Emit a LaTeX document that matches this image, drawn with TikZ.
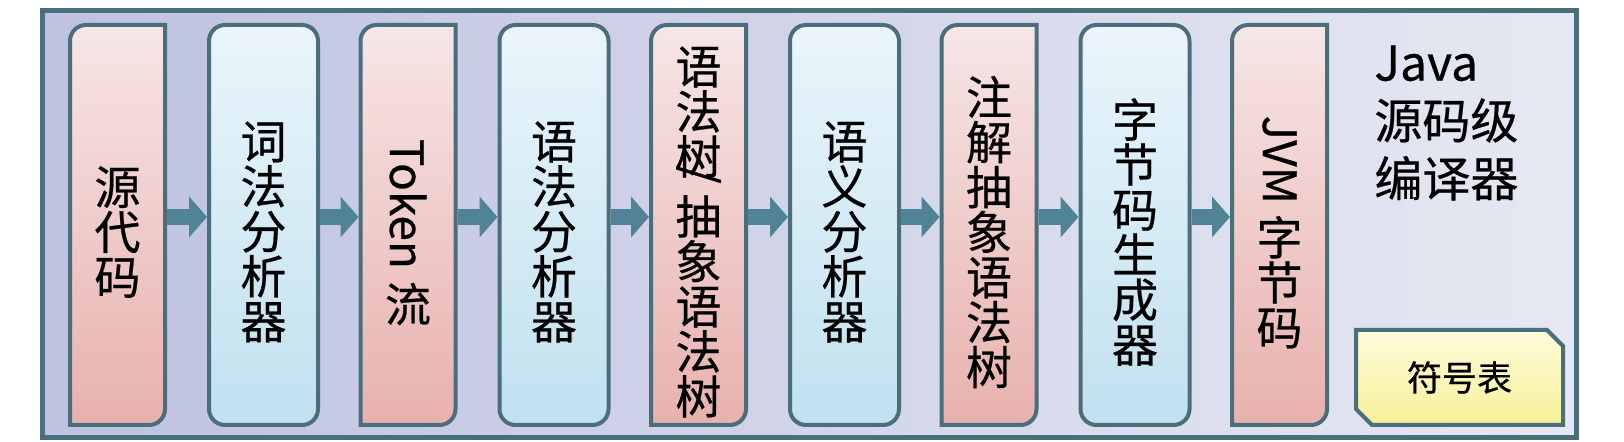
\documentclass[tikz,border=0pt]{standalone}
\usepackage{fontspec}
\usepackage{graphicx}
\usepackage{xcolor}
\setmainfont{Noto Sans CJK SC}[FakeBold=0.5]
\usetikzlibrary{arrows.meta,shapes.misc,backgrounds}

\definecolor{framec}{HTML}{4B6E7D}
\definecolor{framel}{HTML}{BEC2E0}
\definecolor{framer}{HTML}{E6E8F2}
\definecolor{pinktop}{HTML}{F6E6E6}
\definecolor{pinkbot}{HTML}{E8B1AD}
\definecolor{bluetop}{HTML}{EAF5FB}
\definecolor{bluebot}{HTML}{C0E1EE}
\definecolor{symtop}{HTML}{FEFCDC}
\definecolor{symbot}{HTML}{F6F096}
\definecolor{arrowc}{HTML}{4F8395}

\tikzset{
  boxline/.style={draw=framec, line width=2pt},
  pinkbox/.style={minimum width=47.5pt, minimum height=200pt, inner sep=0pt, outer sep=0pt},
  bluebox/.style={pinkbox, minimum width=54.5pt, boxline, rounded corners=8pt, top color=bluetop, bottom color=bluebot},
  boxtext/.style={align=center, font=\fontsize{23pt}{22.5pt}\selectfont, inner sep=0pt, yshift=-3.5pt},
  flow/.style={draw=arrowc, line width=8pt, -{Triangle[width=20pt,length=9pt]}, shorten <=1pt, shorten >=1pt},
  symtab/.style={chamfered rectangle, chamfered rectangle corners={north east,south west},
    chamfered rectangle xsep=4pt, chamfered rectangle ysep=4pt, boxline, top color=symtop, bottom color=symbot,
    minimum width=103.5pt, minimum height=47.5pt, inner sep=0pt, font=\fontsize{17.5pt}{20pt}\selectfont},
  title/.style={align=left, inner sep=0pt, font=\fontsize{24pt}{29pt}\selectfont}
}

\begin{document}
\begin{tikzpicture}[x=0.5pt, y=-0.5pt]
\useasboundingbox (0,0) rectangle (1624,442);

% boxes
\node[pinkbox] (b1) at (117.5,225) {};
\node[bluebox] (b2) at (263.5,225) {};
\node[pinkbox] (b3) at (408,225) {};
\node[bluebox] (b4) at (554,225) {};
\node[pinkbox] (b5) at (698.5,225) {};
\node[bluebox] (b6) at (844.5,225) {};
\node[pinkbox] (b7) at (989,225) {};
\node[bluebox] (b8) at (1135,225) {};
\node[pinkbox] (b9) at (1279.5,225) {};

% texts
\node[boxtext] (t1) at (b1) {源\\代\\码};
\node[boxtext] (t2) at (b2) {词\\法\\分\\析\\器};
\node[boxtext] (t3) at (b3) {\rotatebox[origin=c]{-90}{Token}\\[6pt]流};
\node[boxtext] (t4) at (b4) {语\\法\\分\\析\\器};
\node[boxtext] (t5) at (b5) {语\\法\\树\\[-15pt]\rotatebox[origin=c]{-90}{/}\\抽\\象\\语\\法\\树};
\node[boxtext] (t6) at (b6) {语\\义\\分\\析\\器};
\node[boxtext] (t7) at (b7) {注\\解\\抽\\象\\语\\法\\树};
\node[boxtext] (t8) at (b8) {字\\节\\码\\生\\成\\器};
\node[boxtext] (t9) at (b9) {\rotatebox[origin=c]{-90}{JVM}\\[5pt]字\\节\\码};

\node[title, anchor=north west] (ttl) at (1374,45) {Java\\源码级\\编译器};
\node[symtab] (sym) at (1459.5,377.5) {符号表};

% arrows
\foreach \a/\b in {b1/b2,b2/b3,b3/b4,b4/b5,b5/b6,b6/b7,b7/b8,b8/b9}
  \draw[flow] ([yshift=4pt]\a.east) -- ([yshift=4pt]\b.west);

\begin{scope}[on background layer]
\draw[draw=framec, line width=2.5pt, left color=framel, right color=framer] (42,11) rectangle (1576,438);
\foreach \n in {b1,b3,b5,b7,b9}
  \draw[boxline, top color=pinktop, bottom color=pinkbot]
    ([yshift=-8pt]\n.north west) arc[start angle=180, end angle=90, radius=8pt]
    -- (\n.north east) -- ([yshift=8pt]\n.south east)
    arc[start angle=0, end angle=-90, radius=8pt] -- (\n.south west) -- cycle;
\end{scope}
\end{tikzpicture}
\end{document}
